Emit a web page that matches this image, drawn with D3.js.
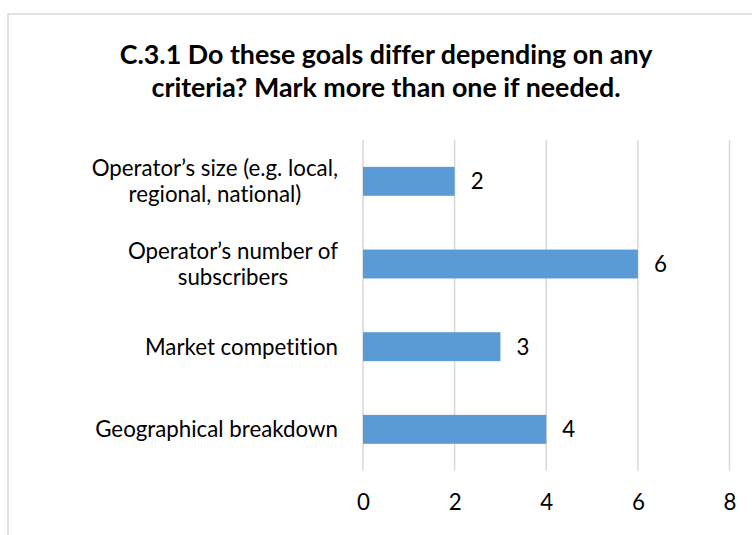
<!DOCTYPE html>
<html>
<head>
<meta charset="utf-8">
<script src="https://cdn.jsdelivr.net/npm/d3@7"></script>
<style>
  html, body { margin: 0; padding: 0; background: #fff; }
  svg { display: block; }
  text {
    font-family: Lato, "Open Sans", "DejaVu Sans", sans-serif;
    fill: #000;
    font-variant-ligatures: none;
    font-feature-settings: "liga" 0, "clig" 0;
  }
</style>
</head>
<body>
<svg id="chart" width="752" height="535"></svg>
<script>
// Chart content
const titleLines = [
  "C.3.1 Do these goals differ depending on any",
  "criteria? Mark more than one if needed."
];
const categories = [
  "Operator’s size (e.g. local, regional, national)",
  "Operator’s number of subscribers",
  "Market competition",
  "Geographical breakdown"
];
const counts = [2, 6, 3, 4];
const xTicks = [0, 2, 4, 6, 8];

const svg = d3.select("#chart");

// Outer chart frame
svg.append("rect")
  .attr("x", 8).attr("y", 14)
  .attr("width", 800).attr("height", 600)
  .attr("fill", "none")
  .attr("stroke", "#d9d9d9")
  .attr("stroke-width", 1.5);

// Pick a font size so a sample string spans the given width
function fitSize(sample, targetWidth, weight) {
  const t = svg.append("text")
    .attr("font-size", 100)
    .attr("font-weight", weight)
    .text(sample);
  const w = t.node().getComputedTextLength();
  t.remove();
  return 100 * targetWidth / w;
}

const titleSize = fitSize(titleLines[0], 533, "bold");
const labelSize = fitSize("Geographical breakdown", 243, "normal");

// Title
const title = svg.append("text")
  .attr("text-anchor", "middle")
  .attr("font-weight", "bold")
  .attr("font-size", titleSize);
title.selectAll("tspan")
  .data(titleLines)
  .join("tspan")
  .attr("x", 386)
  .attr("y", (d, i) => 64 + i * 33)
  .text(d => d);

// Scales
const x = d3.scaleLinear().domain([0, 8]).range([363, 729.5]);
const y = d3.scaleBand()
  .domain(categories)
  .range([140, 470.7])
  .paddingInner(0.65)
  .paddingOuter(0.325);

// Vertical gridlines
svg.append("g")
  .selectAll("line")
  .data(xTicks)
  .join("line")
  .attr("x1", d => x(d)).attr("x2", d => x(d))
  .attr("y1", 140).attr("y2", 470.7)
  .attr("stroke", "#d9d9d9")
  .attr("stroke-width", 1.5);

// Bars
svg.append("g")
  .selectAll("rect")
  .data(categories)
  .join("rect")
  .attr("x", x(0))
  .attr("y", d => y(d))
  .attr("width", (d, i) => x(counts[i]) - x(0))
  .attr("height", y.bandwidth())
  .attr("fill", "#5b9bd5");

// Value labels
svg.append("g")
  .selectAll("text")
  .data(categories)
  .join("text")
  .attr("x", (d, i) => x(counts[i]) + 16)
  .attr("y", d => y(d) + y.bandwidth() / 2)
  .attr("dy", "0.36em")
  .attr("font-size", labelSize)
  .text((d, i) => counts[i]);

// Bottom axis (tick labels only)
const xAxis = svg.append("g")
  .attr("transform", "translate(0,470.7)")
  .call(d3.axisBottom(x).tickValues(xTicks).tickSize(0).tickPadding(23));
xAxis.select(".domain").remove();
xAxis.attr("font-family", null).attr("font-size", null);
xAxis.selectAll("text")
  .attr("font-size", labelSize)
  .attr("fill", "#000");

// Category labels: wrapped, lines centred within a block whose right edge sits by the axis
const labelRight = 338;
const maxLabelWidth = 256;
const lineStep = 26;
const labelG = svg.append("g");
const probe = svg.append("text").attr("font-size", labelSize);
const measure = s => { probe.text(s); return probe.node().getComputedTextLength(); };

categories.forEach(cat => {
  const words = cat.split(" ");
  const lines = [];
  let current = [];
  words.forEach(w => {
    const trial = current.concat(w).join(" ");
    if (measure(trial) > maxLabelWidth && current.length) {
      lines.push(current.join(" "));
      current = [w];
    } else {
      current.push(w);
    }
  });
  lines.push(current.join(" "));
  const blockWidth = d3.max(lines, measure);
  const cx = labelRight - blockWidth / 2;
  const cy = y(cat) + y.bandwidth() / 2;
  const first = cy - (lines.length - 1) * lineStep / 2;

  const t = labelG.append("text")
    .attr("text-anchor", "middle")
    .attr("font-size", labelSize);
  lines.forEach((ln, i) => {
    t.append("tspan")
      .attr("x", cx)
      .attr("y", first + i * lineStep)
      .attr("dy", "0.36em")
      .text(ln);
  });
});
probe.remove();
</script>
</body>
</html>
